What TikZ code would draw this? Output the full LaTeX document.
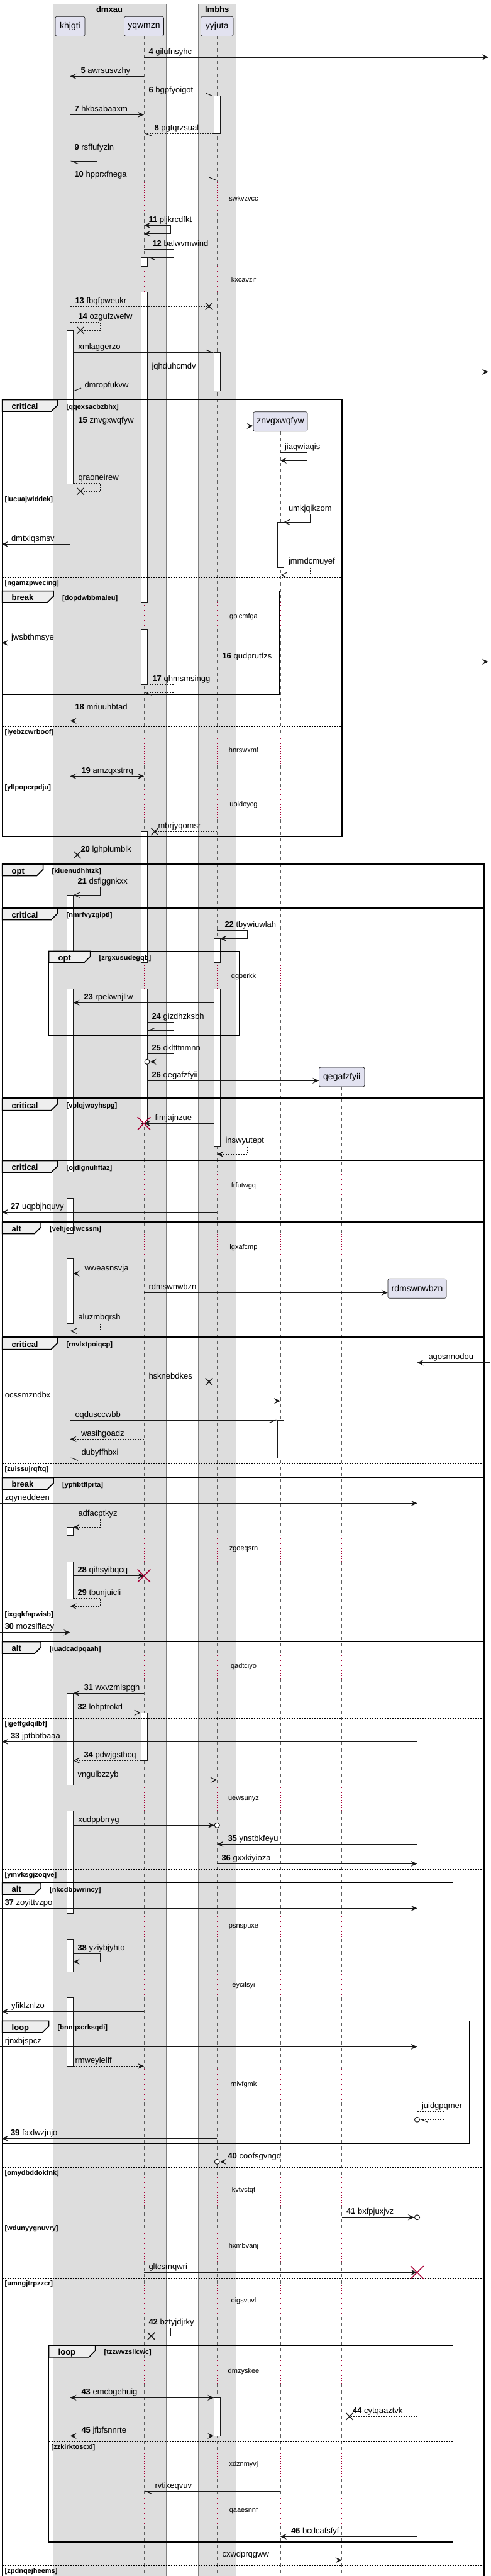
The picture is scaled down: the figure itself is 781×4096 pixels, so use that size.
\documentclass[tikz,border=0pt]{standalone}
\usepackage{fontspec}
\setmainfont{Liberation Sans}
\usetikzlibrary{arrows.meta,shapes.misc}

\definecolor{partfill}{HTML}{E2E2F0}
\definecolor{boxfill}{HTML}{DDDDDD}
\definecolor{tabfill}{HTML}{EEEEEE}
\definecolor{ink}{HTML}{181818}
\definecolor{crimson}{HTML}{A80036}

% delays (start/end) per lifeline
\newcommand\dlyall{290/339,423/464,958.3/1000,1170/1216.7,1255/1303,1530.7/1572,1863.3/1905,1961.7/2001.7,2441.7/2483.3,2628.3/2670,2838.3/2879.3,3042.7/3083.3,3135/3176,3290/3343,3458/3508,3547/3596,3634/3684,3749/3791,3897/3941,3968/4016}
\newcommand\dlyznv{958.3/1000,1170/1216.7,1255/1303,1530.7/1572,1863.3/1905,1961.7/2001.7,2441.7/2483.3,2628.3/2670,2838.3/2879.3,3042.7/3083.3,3135/3176,3290/3343,3458/3508,3547/3596,3634/3684,3749/3791,3897/3941,3968/4016}
\newcommand\dlyqeg{1863.3/1905,1961.7/2001.7,2441.7/2483.3,2628.3/2670,2838.3/2879.3,3042.7/3083.3,3135/3176,3290/3343,3458/3508,3547/3596,3634/3684,3749/3791,3897/3941,3968/4016}
\newcommand\dlyrdm{2441.7/2483.3,2628.3/2670,2838.3/2879.3,3042.7/3083.3,3135/3176,3290/3343,3458/3508,3547/3596,3634/3684,3749/3791,3897/3941,3968/4016}

\tikzset{
  grp/.style={fill=boxfill, draw=gray, line width=0.6pt},
  grptitle/.style={font=\fontsize{13}{15}\selectfont\bfseries, inner sep=0},
  part/.style={draw=ink, fill=partfill, rounded corners=2.5pt, line width=0.6pt, minimum height=31pt, inner sep=0, font=\fontsize{14}{16}\selectfont},
  life/.style={draw=ink!70, line width=0.6pt, dash pattern=on 5pt off 5pt},
  dly/.style={draw=crimson, line width=0.7pt, dash pattern=on 1pt off 3pt},
  dlytxt/.style={font=\fontsize{11}{13}\selectfont, inner sep=0},
  act/.style={draw=ink, fill=white, line width=1pt},
  fbox/.style={draw=black, line width=1.5pt},
  ftab/.style={draw=black, fill=tabfill, line width=1.5pt},
  fsep/.style={draw=black, line width=1pt, dash pattern=on 2pt off 2pt},
  tablbl/.style={font=\fontsize{13}{15}\selectfont\bfseries, anchor=base west, inner sep=0},
  guardlbl/.style={font=\fontsize{11}{13}\selectfont\bfseries, anchor=base west, inner sep=0},
  msg/.style={draw=ink, line width=1pt},
  ret/.style={dash pattern=on 2pt off 2pt},
  fa/.style={msg, -{Stealth[length=10pt,width=9pt,inset=4pt]}},
  fb/.style={msg, {Stealth[length=10pt,width=9pt,inset=4pt]}-{Stealth[length=10pt,width=9pt,inset=4pt]}},
  oa/.style={msg, -{Straight Barb[length=9pt,width=8pt]}},
  hl/.style={msg, -{Straight Barb[harpoon,length=10pt,width=8pt]}},
  hr/.style={msg, -{Straight Barb[harpoon,swap,length=10pt,width=8pt]}},
  lbl/.style={font=\fontsize{13}{15}\selectfont, anchor=base west, inner sep=0},
  endo/.style={circle, draw=ink, fill=white, line width=1pt, minimum size=8pt, inner sep=0},
  lost/.style={cross out, draw=ink, line width=1.3pt, minimum size=10pt, inner sep=0},
  kill/.style={cross out, draw=crimson, line width=1.5pt, minimum size=19pt, inner sep=0},
}

\begin{document}
\begin{tikzpicture}[x=1pt,y=-1pt]
\useasboundingbox (0,0) rectangle (781,4096);

% boxes
\draw[grp] (84,6) rectangle (264,4110);
\draw[grp] (315.5,6) rectangle (375,4110);
\node[grptitle] (dmxau) at (174,14.7) {dmxau};
\node[grptitle] (lmbhs) at (345.25,14.7) {lmbhs};

% participants
\node[part, minimum width=47] (khjgti) at (111.5,41.8) {khjgti};
\node[part, minimum width=63] (yqwmzn) at (229,41.8) {yqwmzn};
\node[part, minimum width=51.5] (yyjuta) at (345.25,41.8) {yyjuta};
\node[part, minimum width=86] (znvgxwqfyw) at (446,670.2) {znvgxwqfyw};
\node[part, minimum width=72.5] (qegafzfyii) at (543.75,1712.5) {qegafzfyii};
\node[part, minimum width=93] (rdmswnwbzn) at (663.5,2048.7) {rdmswnwbzn};

\foreach \p in {khjgti,yqwmzn,yyjuta,znvgxwqfyw}{
  \coordinate (\p-l) at ([xshift=-5pt]\p.center);
  \coordinate (\p-r) at ([xshift=5pt]\p.center);
}
\coordinate (rim-l) at (3,0);
\coordinate (rim-r) at (777,0);
\coordinate (edge-l) at (0,0);
\coordinate (edge-r) at (779.5,0);

% lifelines
\foreach \p in {khjgti,yqwmzn,yyjuta}{
  \foreach \a/\b [remember=\b as \q (initially 57.3)] in \dlyall {
    \draw[life] (\p |- 0,\q) -- (\p |- 0,\a);
    \draw[dly] (\p |- 0,\a) -- (\p |- 0,\b);
  }
  \draw[life] (\p |- 0,4016) -- (\p |- 0,4096);
}
\foreach \a/\b [remember=\b as \q (initially 686)] in \dlyznv {
  \draw[life] (znvgxwqfyw |- 0,\q) -- (znvgxwqfyw |- 0,\a);
  \draw[dly] (znvgxwqfyw |- 0,\a) -- (znvgxwqfyw |- 0,\b);
}
\foreach \a/\b [remember=\b as \q (initially 1728.3)] in \dlyqeg {
  \draw[life] (qegafzfyii |- 0,\q) -- (qegafzfyii |- 0,\a);
  \draw[dly] (qegafzfyii |- 0,\a) -- (qegafzfyii |- 0,\b);
}
\foreach \a/\b [remember=\b as \q (initially 2064)] in \dlyrdm {
  \draw[life] (rdmswnwbzn |- 0,\q) -- (rdmswnwbzn |- 0,\a);
  \draw[dly] (rdmswnwbzn |- 0,\a) -- (rdmswnwbzn |- 0,\b);
}
\foreach \p in {znvgxwqfyw,qegafzfyii,rdmswnwbzn}
  \draw[life] (\p |- 0,4016) -- (\p |- 0,4096);

% delay texts
\foreach \y/\t [count=\i] in {316/swkvzvcc,444.3/kxcavzif,980.7/gplcmfga,1192.3/hnrswxmf,1280/uoidoycg,1552.3/qgberkk,1885.3/frfutwgq,1983.3/lgxafcmp,2463.3/zgoeqsrn,2650/qadtciyo,2860.3/uewsunyz,3064/psnspuxe,3156.3/eycifsyi,3314.3/rnivfgmk,3483/kvtvctqt,3571.3/hxmbvanj,3659/oigsvuvl,3770.7/dmzyskee,3919/xdznmyvj,3991.3/qaaesnnf}
  \node[dlytxt] (dly\i) at (387.5,\y) {\t};

% activations
\foreach \p/\a/\b in {yyjuta/152.3/212.3,yqwmzn/409.3/423,yqwmzn/464/958.3,yqwmzn/1000/1088.3,khjgti/525.3/769.3,yyjuta/560.3/621,znvgxwqfyw/830.3/902,yqwmzn/1322.3/1530.7,yqwmzn/1572/1786.3,khjgti/1423.3/1530.7,khjgti/1572/1863.3,khjgti/1905/1961.7,khjgti/2001.7/2104,yyjuta/1492.3/1530.7,yyjuta/1572/1823,znvgxwqfyw/2258.3/2318.3,khjgti/2428.3/2441.7,khjgti/2483.3/2542.3,khjgti/2692.3/2838.3,khjgti/2879.3/3042.7,khjgti/3083.3/3135,khjgti/3176/3285,yqwmzn/2723.3/2799.3,yyjuta/3812.3/3873.3}
  \draw[act] (\p-l |- 0,\a) rectangle (\p-r |- 0,\b);

% frames
\foreach \xa/\ya/\xb/\yb/\tw/\kind/\guard [count=\i] in {
  3.5/635.7/544/1330/88/critical/qqexsacbzbhx,
  3.5/939.7/445/1104/81.5/break/dopdwbbmaleu,
  3.5/1374/770/1443/65/opt/kiuenudhhtzk,
  3.5/1444/770/1746/88/critical/nmrfvyzgiptl,
  77.5/1512.3/381/1646.3/66/opt/zrgxusudegqb,
  3.5/1747/770/1844.7/88/critical/vplqjwoyhspg,
  3.5/1845.7/770/1942.3/88/critical/ojdlgnuhftaz,
  3.5/1943/770/2126/61.5/alt/vehjeolwcssm,
  3.5/2127/770/2348.3/88/critical/rnvlxtpoiqcp,
  3.5/2349.7/770/2610/81.5/break/ypfibtflprta,
  3.5/2610.7/770/4110/61.5/alt/iuadcadpqaah,
  3.5/2993.7/720.5/3127.7/61.5/alt/nkcdbpwrincy,
  3.5/3213.3/746.5/3408/74/loop/bnnqxcrksqdi,
  77.5/3729.3/720.5/4041.7/74/loop/tzzwvzsllcwc}{
  \draw[fbox] (\xa,\ya) rectangle (\xb,\yb);
  \draw[ftab] (\xa,\ya) -- ++(\tw,0) -- ++(0,8.5) -- ++(-10,10) -- (\xa,\ya+18.5) -- cycle;
  \node[tablbl] (tab\i) at (\xa+15,\ya+15) {\kind};
  \node[guardlbl] (grd\i) at (\xa+\tw+14,\ya+14.5) {[\guard]};
}
\foreach \y/\xa/\xb/\guard [count=\i] in {
  785.3/3.5/544/lucuajwlddek, 918.3/3.5/544/ngamzpwecing,
  1155.3/3.5/544/iyebzcwrboof, 1243.3/3.5/544/yllpopcrpdju,
  2327.3/3.5/770/zuissujrqftq, 2558.3/3.5/770/ixgqkfapwisb,
  2732.3/3.5/770/igeffgdqilbf, 2972.3/3.5/770/ymvksgjzoqve,
  3446.3/3.5/770/omydbddokfnk, 3534.7/3.5/770/wdunyygnuvry,
  3622.3/3.5/770/umngjtrpzzcr, 3882.3/77.5/720.5/zzkirktoscxl,
  4079.7/3.5/770/zpdnqejheems}{
  \draw[fsep] (\xa,\y) -- (\xb,\y);
  \node[guardlbl] (sep\i) at (\xa+4,\y+12) {[\guard]};
}

% messages
\draw[fa] (yqwmzn |- 0,91) -- (rim-r |- 0,91) node[lbl] (m4) at (236,86) {\textbf{4} gilufnsyhc};
\draw[fa] (yqwmzn |- 0,121.3) -- (khjgti |- 0,121.3) node[lbl] (m5) at (128,116.3) {\textbf{5} awrsusvzhy};
\draw[hl] (yqwmzn |- 0,152.3) -- (yyjuta-l |- 0,152.3) node[lbl] (m6) at (236,147.3) {\textbf{6} bgpfyoigot};
\draw[fa] (khjgti |- 0,182.3) -- (yqwmzn |- 0,182.3) node[lbl] (m7) at (118,177.3) {\textbf{7} hkbsabaaxm};
\draw[hl,ret] (yyjuta-l |- 0,212.3) -- (yqwmzn |- 0,212.3) node[lbl] (m8) at (245,207.3) {\textbf{8} pgtqrzsual};
\draw[hl] (khjgti |- 0,243.3) -- (154,243.3) -- (154,256.3) -- (khjgti |- 0,256.3) node[lbl] (m9) at (118,238.3) {\textbf{9} rsffufyzln};
\draw[hl] (khjgti |- 0,286) -- (yyjuta |- 0,286) node[lbl] (m10) at (118,281) {\textbf{10} hpprxfnega};
\draw[fb] (yqwmzn |- 0,358.3) -- (271.5,358.3) -- (271.5,371.7) -- (yqwmzn |- 0,371.7) node[lbl] (m11) at (236,353.3) {\textbf{11} pljkrcdfkt};
\draw[hl] (yqwmzn |- 0,396.7) -- (276.5,396.7) -- (276.5,409.3) -- (yqwmzn-r |- 0,409.3) node[lbl] (m12) at (242,391.7) {\textbf{12} balwvmwind};
\node[lost] (x13) at (332.5,487) {};
\draw[msg,ret] (khjgti |- 0,487) -- (x13.center) node[lbl] (m13) at (119,482) {\textbf{13} fbqfpweukr};
\node[lost] (x14) at (128,525.3) {};
\draw[msg,ret] (khjgti |- 0,512.3) -- (159,512.3) -- (159,525.3) -- (x14.center) node[lbl] (m14) at (124,507.3) {\textbf{14} ozgufzwefw};
\draw[hl] (khjgti-r |- 0,560.3) -- (yyjuta-l |- 0,560.3) node[lbl] (mxml) at (124,555.3) {xmlaggerzo};
\draw[fa] (yqwmzn-r |- 0,591.3) -- (rim-r |- 0,591.3) node[lbl] (mjqh) at (241,586.3) {jqhduhcmdv};
\draw[hr,ret] (yyjuta-l |- 0,621) -- (khjgti-r |- 0,621) node[lbl] (mdmr) at (134,616) {dmropfukvw};
\draw[fa] (khjgti-r |- 0,677.3) -- (znvgxwqfyw.west |- 0,677.3) node[lbl] (m15) at (124,672.3) {\textbf{15} znvgxwqfyw};
\draw[fa] (znvgxwqfyw |- 0,719.3) -- (488.5,719.3) -- (488.5,732.3) -- (znvgxwqfyw |- 0,732.3) node[lbl] (mjia) at (452.5,714.3) {jiaqwiaqis};
\node[lost] (xqra) at (128,781.3) {};
\draw[msg,ret] (khjgti-r |- 0,768.3) -- (159,768.3) -- (159,781.3) -- (xqra.center) node[lbl] (mqra) at (124,763.3) {qraoneirew};
\draw[oa] (znvgxwqfyw |- 0,817.3) -- (493.5,817.3) -- (493.5,830.3) -- (znvgxwqfyw-r |- 0,830.3) node[lbl] (mumk) at (458.5,812.3) {umkjqikzom};
\draw[fa] (khjgti |- 0,865.3) -- (rim-l |- 0,865.3) node[lbl] (mdmt) at (17.5,860.3) {dmtxlqsmsv};
\draw[oa,ret] (znvgxwqfyw-r |- 0,901) -- (493.5,901) -- (493.5,914.3) -- (znvgxwqfyw |- 0,914.3) node[lbl] (mjmm) at (458.5,896) {jmmdcmuyef};
\draw[fa] (yyjuta |- 0,1022.3) -- (rim-l |- 0,1022.3) node[lbl] (mjws) at (17.5,1017.3) {jwsbthmsye};
\draw[fa] (yyjuta |- 0,1052.3) -- (rim-r |- 0,1052.3) node[lbl] (m16) at (353,1047.3) {\textbf{16} qudprutfzs};
\draw[hl,ret] (yqwmzn-r |- 0,1088.3) -- (276.5,1088.3) -- (276.5,1101.3) -- (yqwmzn |- 0,1101.3) node[lbl] (m17) at (242,1083.3) {\textbf{17} qhmsmsingg};
\draw[fa,ret] (khjgti |- 0,1133.3) -- (154,1133.3) -- (154,1146.3) -- (khjgti |- 0,1146.3) node[lbl] (m18) at (119,1128.3) {\textbf{18} mriuuhbtad};
\draw[fb] (khjgti |- 0,1234.3) -- (yqwmzn |- 0,1234.3) node[lbl] (m19) at (129,1229.3) {\textbf{19} amzqxstrrq};
\node[lost] (xmbr) at (246,1322.3) {};
\draw[msg,ret] (yyjuta |- 0,1322.3) -- (xmbr.center) node[lbl] (mmbr) at (251,1317.3) {mbrjyqomsr};
\node[lost] (x20) at (123,1359.3) {};
\draw[msg] (znvgxwqfyw |- 0,1359.3) -- (x20.center) node[lbl] (m20) at (128,1354.3) {\textbf{20} lghplumblk};
\draw[oa] (khjgti |- 0,1410.3) -- (159,1410.3) -- (159,1423.3) -- (khjgti-r |- 0,1423.3) node[lbl] (m21) at (123,1405.3) {\textbf{21} dsfiggnkxx};
\draw[fa] (yyjuta |- 0,1479.7) -- (393,1479.7) -- (393,1492.3) -- (yyjuta-r |- 0,1492.3) node[lbl] (m22) at (357,1474.7) {\textbf{22} tbywiuwlah};
\draw[fa] (yyjuta-l |- 0,1594.3) -- (khjgti-r |- 0,1594.3) node[lbl] (m23) at (133,1589.3) {\textbf{23} rpekwnjllw};
\draw[hr] (yqwmzn-r |- 0,1625.7) -- (276.5,1625.7) -- (276.5,1638.3) -- (yqwmzn-r |- 0,1638.3) node[lbl] (m24) at (241,1620.7) {\textbf{24} gizdhzksbh};
\node[endo] (o25) at (yqwmzn-r |- 0,1688.3) {};
\draw[fa] (yqwmzn-r |- 0,1675.3) -- (276.5,1675.3) -- (276.5,1688.3) -- (o25.east) node[lbl] (m25) at (241,1670.3) {\textbf{25} ckltttnmnn};
\draw[fa] (yqwmzn-r |- 0,1718.3) -- (qegafzfyii.west |- 0,1718.3) node[lbl] (m26) at (241,1713.3) {\textbf{26} qegafzfyii};
\draw[fa] (yyjuta-l |- 0,1786.3) -- (yqwmzn |- 0,1786.3) node[lbl] (mfim) at (246,1781.3) {fimjajnzue};
\node[kill] (kfim) at (yqwmzn |- 0,1786.3) {};
\draw[fa,ret] (yyjuta-r |- 0,1822.3) -- (393,1822.3) -- (393,1835.3) -- (yyjuta |- 0,1835.3) node[lbl] (mins) at (358,1817.3) {inswyutept};
\draw[fa] (yyjuta |- 0,1927.3) -- (rim-l |- 0,1927.3) node[lbl] (m27) at (16.5,1922.3) {\textbf{27} uqpbjhquvy};
\draw[fa,ret] (qegafzfyii |- 0,2025) -- (khjgti-r |- 0,2025) node[lbl] (mwwe) at (134,2020) {wweasnsvja};
\draw[fa] (yqwmzn |- 0,2055.3) -- (rdmswnwbzn.west |- 0,2055.3) node[lbl] (mrdm) at (236,2050.3) {rdmswnwbzn};
\draw[oa,ret] (khjgti-r |- 0,2103.3) -- (159,2103.3) -- (159,2116.3) -- (khjgti |- 0,2116.3) node[lbl] (malu) at (124,2098.3) {aluzmbqrsh};
\draw[fa] (edge-r |- 0,2166.7) -- (rdmswnwbzn |- 0,2166.7) node[lbl] (mago) at (681,2161.7) {agosnnodou};
\node[lost] (xhsk) at (332.5,2197) {};
\draw[msg,ret] (yqwmzn |- 0,2197) -- (xhsk.center) node[lbl] (mhsk) at (236,2192) {hsknebdkes};
\draw[fa] (edge-l |- 0,2227.7) -- (znvgxwqfyw |- 0,2227.7) node[lbl] (mocs) at (7.5,2222.7) {ocssmzndbx};
\draw[hr] (khjgti |- 0,2258.3) -- (znvgxwqfyw-l |- 0,2258.3) node[lbl] (moqd) at (119,2253.3) {oqdusccwbb};
\draw[fa,ret] (yqwmzn |- 0,2288.3) -- (khjgti |- 0,2288.3) node[lbl] (mwas) at (128.5,2283.3) {wasihgoadz};
\draw[hl,ret] (znvgxwqfyw-l |- 0,2318.3) -- (khjgti |- 0,2318.3) node[lbl] (mdub) at (129,2313.3) {dubyffhbxi};
\draw[fa] (edge-l |- 0,2390.3) -- (rdmswnwbzn |- 0,2390.3) node[lbl] (mzqy) at (7.5,2385.3) {zqyneddeen};
\draw[fa,ret] (khjgti |- 0,2415.3) -- (159,2415.3) -- (159,2428.3) -- (khjgti-r |- 0,2428.3) node[lbl] (madf) at (124,2410.3) {adfacptkyz};
\draw[fa] (khjgti-r |- 0,2505.7) -- (yqwmzn |- 0,2505.7) node[lbl] (m28) at (123,2500.7) {\textbf{28} qihsyibqcq};
\node[kill] (k28) at (yqwmzn |- 0,2505.7) {};
\draw[fa,ret] (khjgti-r |- 0,2541.3) -- (159,2541.3) -- (159,2554) -- (khjgti |- 0,2554) node[lbl] (m29) at (123,2536.3) {\textbf{29} tbunjuicli};
\draw[fa] (edge-l |- 0,2595.7) -- (khjgti |- 0,2595.7) node[lbl] (m30) at (7,2590.7) {\textbf{30} mozslflacy};
\draw[fa] (yqwmzn |- 0,2692.3) -- (khjgti-r |- 0,2692.3) node[lbl] (m31) at (133,2687.3) {\textbf{31} wxvzmlspgh};
\draw[oa] (khjgti-r |- 0,2723.3) -- (yqwmzn-l |- 0,2723.3) node[lbl] (m32) at (123,2718.3) {\textbf{32} lohptrokrl};
\draw[fa] (rdmswnwbzn |- 0,2769.3) -- (rim-l |- 0,2769.3) node[lbl] (m33) at (16.5,2764.3) {\textbf{33} jptbbtbaaa};
\draw[oa,ret] (yqwmzn-l |- 0,2799.3) -- (khjgti-r |- 0,2799.3) node[lbl] (m34) at (133,2794.3) {\textbf{34} pdwjgsthcq};
\draw[oa] (khjgti-r |- 0,2830.3) -- (yyjuta |- 0,2830.3) node[lbl] (mvng) at (123,2825.3) {vngulbzzyb};
\node[endo] (oxud) at (yyjuta |- 0,2902.3) {};
\draw[fa] (khjgti-r |- 0,2902.3) -- (oxud.west) node[lbl] (mxud) at (124,2897.3) {xudppbrryg};
\draw[fa] (rdmswnwbzn |- 0,2932.3) -- (yyjuta |- 0,2932.3) node[lbl] (m35) at (362,2927.3) {\textbf{35} ynstbkfeyu};
\draw[fa] (yyjuta |- 0,2963.3) -- (rdmswnwbzn |- 0,2963.3) node[lbl] (m36) at (352,2958.3) {\textbf{36} gxxkiyioza};
\draw[fa] (edge-l |- 0,3034.3) -- (rdmswnwbzn |- 0,3034.3) node[lbl] (m37) at (7,3029.3) {\textbf{37} zoyittvzpo};
\draw[fa] (khjgti-r |- 0,3106.3) -- (159,3106.3) -- (159,3119.3) -- (khjgti-r |- 0,3119.3) node[lbl] (m38) at (123,3101.3) {\textbf{38} yziybjyhto};
\draw[fa] (yqwmzn |- 0,3198.3) -- (rim-l |- 0,3198.3) node[lbl] (myfi) at (17.5,3193.3) {yfiklznlzo};
\draw[fa] (edge-l |- 0,3254.3) -- (rdmswnwbzn |- 0,3254.3) node[lbl] (mrjn) at (7.5,3249.3) {rjnxbjspcz};
\draw[fa,ret] (khjgti-r |- 0,3285.3) -- (yqwmzn |- 0,3285.3) node[lbl] (mrmw) at (119,3280.3) {rmweylelff};
\node[endo] (ojui) at (rdmswnwbzn |- 0,3370.3) {};
\draw[hl,ret] (rdmswnwbzn |- 0,3357.3) -- (706,3357.3) -- (706,3370.3) -- (ojui.east) node[lbl] (mjui) at (670.5,3352.3) {juidgpqmer};
\draw[fa] (yyjuta |- 0,3400.3) -- (rim-l |- 0,3400.3) node[lbl] (m39) at (16.5,3395.3) {\textbf{39} faxlwzjnjo};
\node[endo] (o40) at (yyjuta |- 0,3437.3) {};
\draw[fa] (qegafzfyii |- 0,3437.3) -- (o40.east) node[lbl] (m40) at (362,3432.3) {\textbf{40} coofsgvngd};
\node[endo] (o41) at (rdmswnwbzn |- 0,3525.7) {};
\draw[fa] (qegafzfyii |- 0,3525.7) -- (o41.west) node[lbl] (m41) at (550.5,3520.7) {\textbf{41} bxfpjuxjvz};
\draw[fa] (yqwmzn |- 0,3613.3) -- (rdmswnwbzn |- 0,3613.3) node[lbl] (mglt) at (236,3608.3) {gltcsmqwri};
\node[kill] (kglt) at (rdmswnwbzn |- 0,3613.3) {};
\node[lost] (x42) at (240.5,3714.3) {};
\draw[msg] (yqwmzn |- 0,3701.7) -- (271.5,3701.7) -- (271.5,3714.3) -- (x42.center) node[lbl] (m42) at (236,3696.7) {\textbf{42} bztyjdjrky};
\draw[fb] (khjgti |- 0,3812.3) -- (yyjuta-l |- 0,3812.3) node[lbl] (m43) at (129,3807.3) {\textbf{43} emcbgehuig};
\node[lost] (x44) at (556,3842.3) {};
\draw[msg,ret] (rdmswnwbzn |- 0,3842.3) -- (x44.center) node[lbl] (m44) at (560.5,3837.3) {\textbf{44} cytqaaztvk};
\draw[fb,ret] (khjgti |- 0,3873.3) -- (yyjuta-l |- 0,3873.3) node[lbl] (m45) at (129,3868.3) {\textbf{45} jfbfsnnrte};
\draw[hl] (znvgxwqfyw |- 0,3961.3) -- (yqwmzn |- 0,3961.3) node[lbl] (mrvt) at (246,3956.3) {rvtixeqvuv};
\draw[fa] (rdmswnwbzn |- 0,4033.3) -- (znvgxwqfyw |- 0,4033.3) node[lbl] (m46) at (462.5,4028.3) {\textbf{46} bcdcafsfyf};
\draw[fa] (yyjuta |- 0,4070.7) -- (qegafzfyii |- 0,4070.7) node[lbl] (mcxw) at (353,4065.7) {cxwdprqgww};

\end{tikzpicture}
\end{document}
